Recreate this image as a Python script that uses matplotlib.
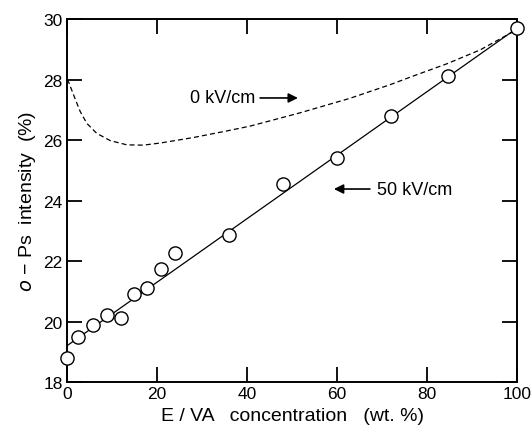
import numpy as np
import matplotlib
matplotlib.use('Agg')
import matplotlib.pyplot as plt

plt.rcParams['font.family'] = ['Liberation Sans', 'DejaVu Sans']

# measured points, 50 kV/cm
conc = [0, 2.4, 5.8, 8.8, 11.9, 14.9, 17.7, 20.8, 24.0, 35.9, 48.0, 60.0, 72.0, 84.7, 100.0]
intensity = [18.8, 19.5, 19.9, 20.2, 20.1, 20.9, 21.1, 21.75, 22.25, 22.85, 24.55, 25.4, 26.8, 28.1, 29.7]

# straight fit line through the 50 kV/cm data
fit_x = [0, 100]
fit_y = [19.2, 29.7]

# dashed curve, 0 kV/cm
zero_x = [0, 0.4, 1.8, 2.9, 4.4, 6.6, 9.6, 13.3, 16.9, 20.7, 28, 35.5, 40.7, 51.8, 62.9, 71.8, 77, 84.4, 91.8, 99, 100]
zero_y = [28.0, 27.9, 27.36, 26.95, 26.55, 26.22, 25.98, 25.84, 25.83, 25.9, 26.08, 26.3, 26.46, 26.9, 27.38, 27.83, 28.12, 28.52, 28.98, 29.57, 29.67]

fig = plt.figure(figsize=(5.32, 4.35), dpi=100)
ax = fig.add_axes([0.126, 0.1195, 0.846, 0.8345])

ax.plot(zero_x, zero_y, color='black', lw=0.9, linestyle=(0, (4, 2.5)))
ax.plot(fit_x, fit_y, color='black', lw=0.9)
ax.plot(conc, intensity, 'o', ms=9.5, mfc='white', mec='black', mew=1.0, clip_on=False, zorder=5)

ax.set_xlim(0, 100)
ax.set_ylim(18, 30)
ax.set_xticks([0, 20, 40, 60, 80, 100])
ax.set_yticks([18, 20, 22, 24, 26, 28, 30])
ax.tick_params(direction='in', length=11, width=1.3, top=True, right=True, labelsize=12.5, pad=3)
for s in ax.spines.values():
    s.set_linewidth(1.4)

ax.set_xlabel('E / VA   concentration   (wt. %)', fontsize=14, labelpad=4)
ax.set_ylabel('$\\it{o}$ − Ps  intensity  (%)', fontsize=14, labelpad=4)

# annotations
ax.annotate('', xy=(51.3, 27.39), xytext=(42.9, 27.39),
            arrowprops=dict(arrowstyle='-|>', color='black', lw=1.2, mutation_scale=14, shrinkA=0, shrinkB=0))
ax.text(41.8, 27.39, '0 kV/cm', fontsize=13, ha='right', va='center')
ax.annotate('', xy=(59.3, 24.38), xytext=(67.3, 24.38),
            arrowprops=dict(arrowstyle='-|>', color='black', lw=1.2, mutation_scale=14, shrinkA=0, shrinkB=0))
ax.text(68.9, 24.38, '50 kV/cm', fontsize=13, ha='left', va='center')

fig.savefig('out.png', dpi=100)
